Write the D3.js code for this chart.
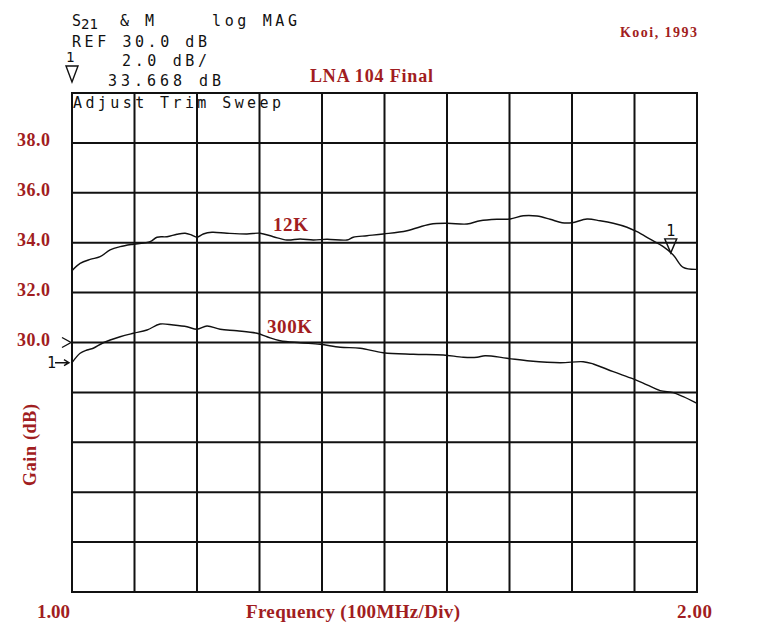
<!DOCTYPE html>
<html>
<head>
<meta charset="utf-8">
<script src="https://cdn.jsdelivr.net/npm/d3@7"></script>
<style>
  body { margin: 0; background: #fff; }
  .red { fill: #a11d21; font-family: "Liberation Serif", serif; font-weight: bold; }
  .hp { fill: #111; font-family: "DejaVu Sans Mono", monospace; font-size: 15px; }
  .grid line { stroke: #111; stroke-width: 2; }
  .trace { fill: none; stroke: #111; stroke-width: 1.4; }
</style>
</head>
<body>
<div id="svg-div"></div>
<script>
// data (frequency in GHz, gain in dB)
var freq12K = [1.000, 1.013, 1.029, 1.045, 1.061, 1.077, 1.098, 1.125, 1.136, 1.152, 1.168, 1.181, 1.192, 1.200, 1.210, 1.224,
	1.248, 1.280, 1.301, 1.322, 1.344, 1.365, 1.386, 1.408, 1.440, 1.450, 1.472, 1.498, 1.536, 1.573, 1.600, 1.632, 1.653,
	1.680, 1.701, 1.722, 1.744, 1.765, 1.784, 1.800, 1.824, 1.845, 1.866, 1.888, 1.904, 1.925, 1.946, 1.962, 1.978, 2.000];
var gain12K = [32.88, 33.17, 33.33, 33.44, 33.71, 33.84, 33.94, 34.04, 34.22, 34.24, 34.34, 34.38, 34.30, 34.22, 34.35, 34.42,
	34.38, 34.35, 34.38, 34.24, 34.11, 34.15, 34.11, 34.14, 34.11, 34.22, 34.28, 34.35, 34.48, 34.74, 34.78, 34.75, 34.88,
	34.94, 34.95, 35.08, 35.07, 34.94, 34.80, 34.80, 34.95, 34.88, 34.78, 34.62, 34.44, 34.14, 33.84, 33.51, 33.01, 32.93];

var freq300K = [1.000, 1.013, 1.024, 1.034, 1.050, 1.077, 1.098, 1.120, 1.141, 1.162, 1.184, 1.200, 1.216, 1.237, 1.264,
	1.296, 1.312, 1.333, 1.365, 1.397, 1.429, 1.461, 1.498, 1.546, 1.594, 1.626, 1.648, 1.661, 1.696, 1.733, 1.781, 1.818,
	1.834, 1.866, 1.898, 1.920, 1.941, 1.962, 1.978, 2.000];
var gain300K = [29.19, 29.57, 29.70, 29.77, 29.99, 30.23, 30.37, 30.50, 30.74, 30.70, 30.63, 30.53, 30.66, 30.53, 30.47,
	30.37, 30.23, 30.07, 29.99, 29.93, 29.81, 29.77, 29.59, 29.53, 29.50, 29.41, 29.41, 29.47, 29.37, 29.26, 29.19, 29.23,
	29.14, 28.83, 28.54, 28.30, 28.07, 27.99, 27.83, 27.56];

var yTickLabels = [30, 32, 34, 36, 38];
var gridGain = d3.range(20, 41, 2);
var gridFreq = d3.range(1.0, 2.01, 0.1);
var markerFreq = 1.958;

var chartProperties = {
	outerWidth: 765,
	outerheight: 636,
	left: 72,
	right: 697,
	top: 93,
	bottom: 592
};

var svg = d3.select("#svg-div")
	.append("svg")
	.attr("width", chartProperties.outerWidth)
	.attr("height", chartProperties.outerheight);

// Scale
var xScale = d3.scaleLinear()
	.domain([1.0, 2.0])
	.range([chartProperties.left, chartProperties.right]);

var yScale = d3.scaleLinear()
	.domain([20, 40])
	.range([chartProperties.bottom, chartProperties.top]);

// Gridlines
var grid = svg.append("g").attr("class", "grid");

grid.selectAll(".h")
	.data(gridGain)
	.enter()
	.append("line")
	.attr("x1", xScale(1.0) - 1)
	.attr("x2", xScale(2.0) + 1)
	.attr("y1", function(d) { return yScale(d); })
	.attr("y2", function(d) { return yScale(d); });

grid.selectAll(".v")
	.data(gridFreq)
	.enter()
	.append("line")
	.attr("x1", function(d) { return xScale(d); })
	.attr("x2", function(d) { return xScale(d); })
	.attr("y1", yScale(40))
	.attr("y2", yScale(20));

// traces
var line = d3.line()
	.x(function(d) { return xScale(d[0]); })
	.y(function(d) { return yScale(d[1]); })
	.curve(d3.curveCatmullRom);

svg.append("path")
	.attr("class", "trace")
	.attr("d", line(d3.zip(freq12K, gain12K)));

svg.append("path")
	.attr("class", "trace")
	.attr("d", line(d3.zip(freq300K, gain300K)));

// y labels
svg.selectAll(".ylab")
	.data(yTickLabels)
	.enter()
	.append("text")
	.attr("class", "red")
	.attr("x", 17)
	.attr("y", function(d) { return yScale(d) + 3; })
	.attr("font-size", "18px")
	.attr("textLength", 33)
	.text(function(d) { return d.toFixed(1); });

svg.append("text")
	.attr("class", "red")
	.attr("font-size", "18px")
	.attr("transform", "translate(36,445) rotate(-90)")
	.attr("text-anchor", "middle")
	.attr("textLength", 82)
	.text("Gain (dB)");

// x labels
svg.append("text").attr("class", "red").attr("font-size", "19px")
	.attr("x", 37).attr("y", 618).attr("textLength", 33).text("1.00");
svg.append("text").attr("class", "red").attr("font-size", "19px")
	.attr("x", 677).attr("y", 618).attr("textLength", 35).text("2.00");
svg.append("text").attr("class", "red").attr("font-size", "19px")
	.attr("x", 246).attr("y", 618).attr("textLength", 214).text("Frequency (100MHz/Div)");

// titles
svg.append("text").attr("class", "red").attr("font-size", "18px")
	.attr("x", 310).attr("y", 82).attr("textLength", 123).text("LNA 104 Final");
svg.append("text").attr("class", "red").attr("font-size", "14px")
	.attr("x", 620).attr("y", 37).attr("textLength", 77).text("Kooi, 1993");
svg.append("text").attr("class", "red").attr("font-size", "19px")
	.attr("x", 273).attr("y", 231).attr("textLength", 35).text("12K");
svg.append("text").attr("class", "red").attr("font-size", "19px")
	.attr("x", 267).attr("y", 333).attr("textLength", 45).text("300K");

// analyzer header
var hdr = svg.append("g").attr("class", "hp");
var s21 = hdr.append("text").attr("x", 72).attr("y", 26);
s21.append("tspan").text("S");
s21.append("tspan").attr("dy", 3).attr("font-size", "14px").text("21");
hdr.append("text").attr("x", 120).attr("y", 26).attr("textLength", 34).text("& M");
hdr.append("text").attr("x", 212).attr("y", 26).attr("textLength", 85).text("log MAG");
hdr.append("text").attr("x", 72).attr("y", 47).attr("textLength", 135).text("REF 30.0 dB");
hdr.append("text").attr("x", 122).attr("y", 66).attr("textLength", 85).text("2.0 dB/");
hdr.append("text").attr("x", 108).attr("y", 86).attr("textLength", 113).text("33.668 dB");
hdr.append("text").attr("x", 73).attr("y", 108).attr("textLength", 208).text("Adjust Trim Sweep");
hdr.append("text").attr("x", 66).attr("y", 62).attr("font-size", "14px").text("1");

// reference marker triangle top-left
svg.append("path")
	.attr("d", "M66,66 L78,66 L72,82 Z")
	.attr("fill", "none").attr("stroke", "#111").attr("stroke-width", 1.4);

// marker 1 on the 12K trace
var mIdx = d3.bisectLeft(freq12K, markerFreq);
var mx = xScale(markerFreq);
var my = yScale(gain12K[mIdx - 1] + (gain12K[mIdx] - gain12K[mIdx - 1]) *
	(markerFreq - freq12K[mIdx - 1]) / (freq12K[mIdx] - freq12K[mIdx - 1]));
svg.append("path")
	.attr("d", "M" + (mx - 6) + "," + (my - 14) + " L" + (mx + 6) + "," + (my - 14) + " L" + mx + "," + my + " Z")
	.attr("fill", "none").attr("stroke", "#111").attr("stroke-width", 1.4);
svg.append("text").attr("class", "hp").attr("font-size", "13px")
	.attr("x", mx).attr("y", my - 17).attr("text-anchor", "middle").text("1");

// reference level ">" and channel "1->" markers on the left
var refY = yScale(30);
svg.append("path")
	.attr("d", "M62," + (refY - 5) + " L71," + refY + " L62," + (refY + 5))
	.attr("fill", "none").attr("stroke", "#111").attr("stroke-width", 1.4);
var startY = yScale(gain300K[0]);
svg.append("text").attr("class", "hp").attr("font-size", "13px")
	.attr("x", 47).attr("y", startY + 5).text("1");
svg.append("path")
	.attr("d", "M55," + startY + " L69," + startY + " M64," + (startY - 3) + " L69," + startY + " L64," + (startY + 3))
	.attr("fill", "none").attr("stroke", "#111").attr("stroke-width", 1.4);
</script>
</body>
</html>
